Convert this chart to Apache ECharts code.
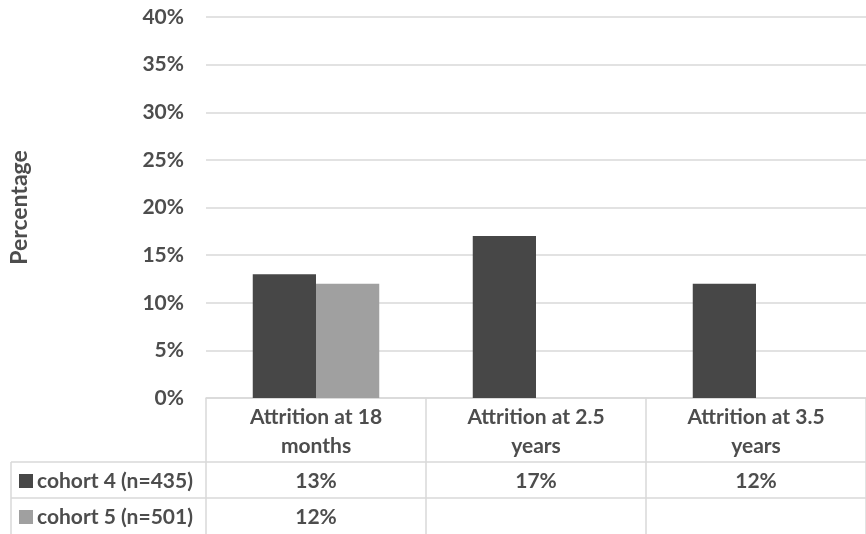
<!DOCTYPE html>
<html>
<head>
<meta charset="utf-8">
<script src="https://cdn.jsdelivr.net/npm/echarts@6/dist/echarts.min.js"></script>
<style>html,body{margin:0;padding:0;background:#fff;}#c{width:866px;height:534px;}</style>
</head>
<body>
<div id="c"></div>
<script>
const categories = ['Attrition at 18\nmonths', 'Attrition at 2.5\nyears', 'Attrition at 3.5\nyears'];
const seriesNames = ['cohort 4 (n=435)', 'cohort 5 (n=501)'];
const cohort4 = [13, 17, 12];
const cohort5 = [12, null, null];
const yTicks = [0, 5, 10, 15, 20, 25, 30, 35, 40];
const colors = ['#474747', '#a0a0a0'];

const FONT = 'Lato';
const TXT = '#4d4d4d';
const LINE = '#d9d9d9';

const chart = echarts.init(document.getElementById('c'));
chart.setOption({
  animation: false,
  grid: { left: 204, right: 0, top: 17, bottom: 136 },
  xAxis: {
    type: 'category',
    data: categories,
    axisLine: { lineStyle: { color: LINE, width: 1.5 } },
    axisTick: { show: true, interval: 0, inside: false, length: 136, lineStyle: { color: LINE, width: 1.5 } },
    axisLabel: { interval: 0, fontFamily: FONT, fontWeight: 'bold', fontSize: 21, color: TXT, lineHeight: 29, margin: 5 }
  },
  yAxis: {
    type: 'value',
    min: yTicks[0], max: yTicks[yTicks.length - 1], interval: 5,
    name: 'Percentage', nameLocation: 'middle', nameRotate: 90, nameGap: 175,
    nameTextStyle: { fontFamily: FONT, fontWeight: 'bold', fontSize: 23, color: TXT },
    axisLine: { show: false }, axisTick: { show: false },
    axisLabel: { formatter: '{value}%', fontFamily: FONT, fontWeight: 'bold', fontSize: 21, color: TXT, margin: 22 },
    splitLine: { lineStyle: { color: LINE, width: 1.5 } }
  },
  series: [
    { name: seriesNames[0], type: 'bar', data: cohort4, itemStyle: { color: colors[0] }, barGap: '0%', barCategoryGap: '42.5%' },
    { name: seriesNames[1], type: 'bar', data: cohort5, itemStyle: { color: colors[1] }, barGap: '0%', barCategoryGap: '42.5%' }
  ]
});

// data table below the axis
const rowsY = [481, 517];
const data = [cohort4, cohort5];
const g = [];
g.push({ type: 'line', shape: { x1: 11, y1: 462, x2: 866, y2: 462 }, style: { stroke: LINE, lineWidth: 1.5 } });
g.push({ type: 'line', shape: { x1: 11, y1: 498, x2: 866, y2: 498 }, style: { stroke: LINE, lineWidth: 1.5 } });
g.push({ type: 'line', shape: { x1: 11, y1: 462, x2: 11, y2: 534 }, style: { stroke: LINE, lineWidth: 1.5 } });
seriesNames.forEach((n, i) => {
  g.push({ type: 'rect', shape: { x: 19, y: rowsY[i] - 7, width: 14, height: 14 }, style: { fill: colors[i] } });
  g.push({ type: 'text', x: 37, y: rowsY[i], style: { text: n, font: 'bold 21px ' + FONT, fill: TXT, textVerticalAlign: 'middle', textAlign: 'left' } });
  data[i].forEach((v, j) => {
    if (v == null) return;
    const px = chart.convertToPixel({ xAxisIndex: 0 }, j);
    g.push({ type: 'text', x: px, y: rowsY[i], style: { text: v + '%', font: 'bold 21px ' + FONT, fill: TXT, textVerticalAlign: 'middle', textAlign: 'center' } });
  });
});
chart.setOption({ graphic: g });
</script>
</body>
</html>
